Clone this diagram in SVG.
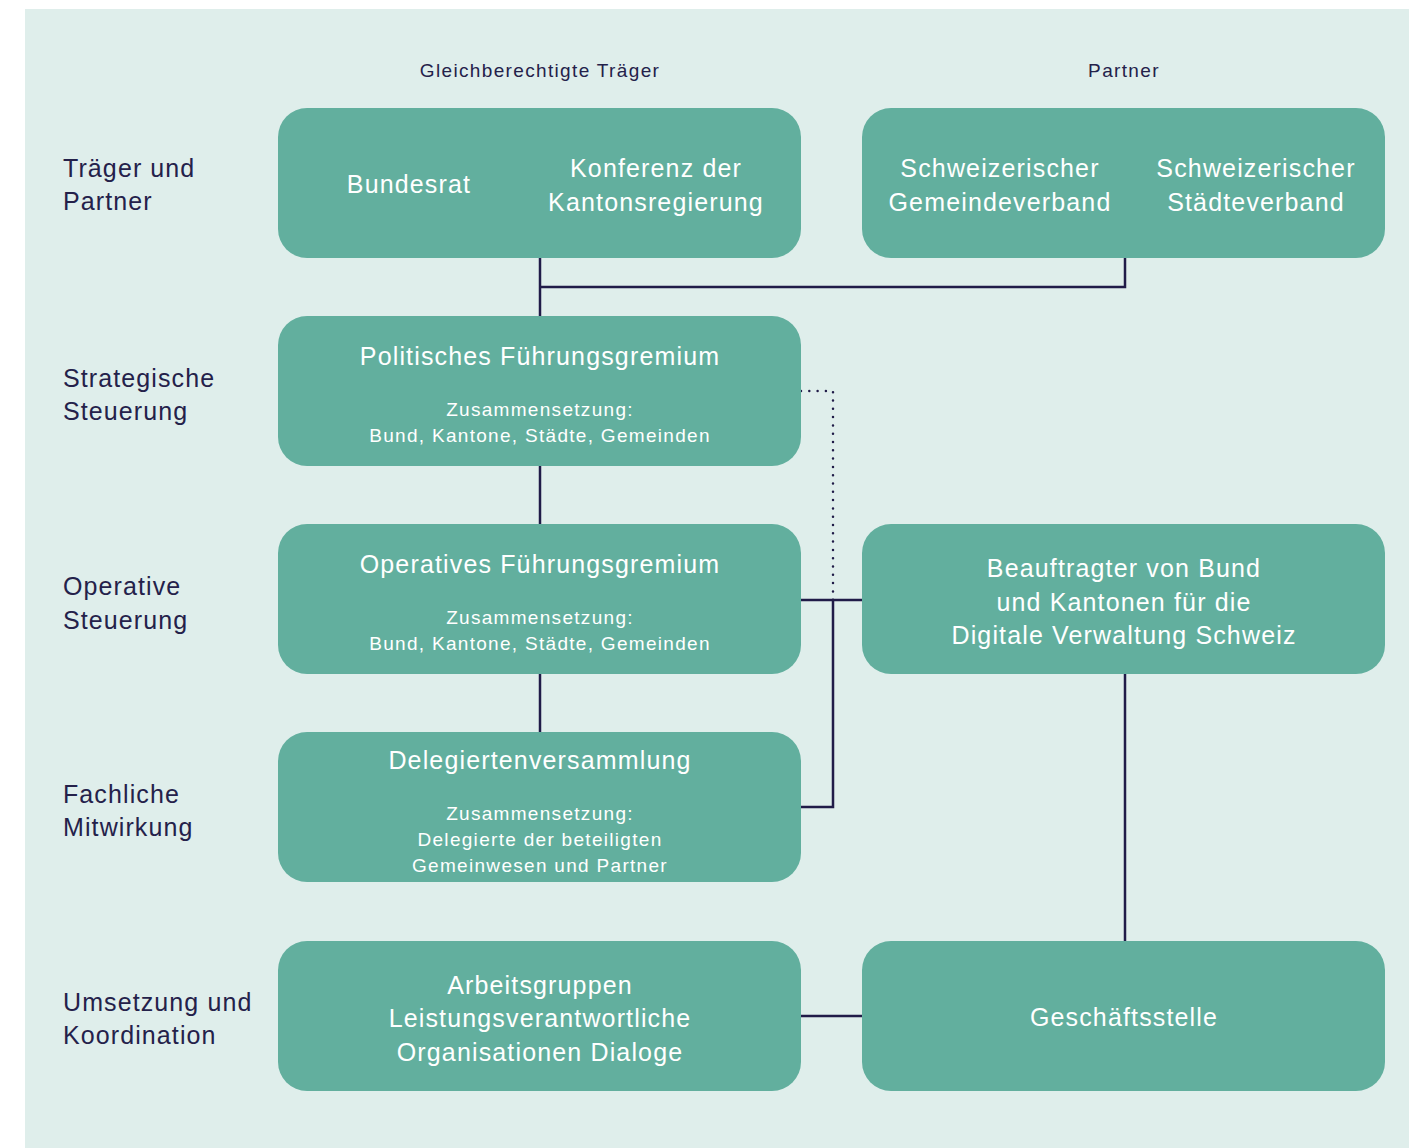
<svg xmlns="http://www.w3.org/2000/svg" width="1422" height="1148" viewBox="0 0 1422 1148">
<style>
.bg{fill:#dfeeeb}
.box{fill:#62af9e}
.t{font-family:"Liberation Sans",Arial,sans-serif;fill:#ffffff;text-anchor:middle}
.big{font-size:25px;letter-spacing:1.15px}
.small{font-size:19px;letter-spacing:1.3px}
.lab{font-family:"Liberation Sans",Arial,sans-serif;fill:#24214a;font-size:25px;letter-spacing:1.1px}
.head{font-family:"Liberation Sans",Arial,sans-serif;fill:#24214a;font-size:19px;letter-spacing:1.35px;text-anchor:middle}
.ln{stroke:#201b48;stroke-width:2.5;fill:none}
.dot{stroke:#201b48;stroke-width:2.5;fill:none;stroke-dasharray:0 8.3;stroke-linecap:round}
</style>
<rect class="bg" x="25" y="9" width="1384" height="1139"/>
<g id="headers">
<text class="head" x="540" y="77">Gleichberechtigte Träger</text>
<text class="head" x="1124" y="77">Partner</text>
</g>
<g id="labels">
<text class="lab" x="63" y="177">Träger und</text>
<text class="lab" x="63" y="210">Partner</text>
<text class="lab" x="63" y="387">Strategische</text>
<text class="lab" x="63" y="420">Steuerung</text>
<text class="lab" x="63" y="595">Operative</text>
<text class="lab" x="63" y="629">Steuerung</text>
<text class="lab" x="63" y="803">Fachliche</text>
<text class="lab" x="63" y="836">Mitwirkung</text>
<text class="lab" x="63" y="1011">Umsetzung und</text>
<text class="lab" x="63" y="1044">Koordination</text>
</g>
<g id="connectors">
<path class="ln" d="M540 258V316"/>
<path class="ln" d="M540 287H1125V258"/>
<path class="ln" d="M540 466V524"/>
<path class="ln" d="M540 674V732"/>
<path class="dot" d="M801 391H833V600"/>
<path class="ln" d="M801 600H862"/>
<path class="ln" d="M833 600V807H801"/>
<path class="ln" d="M1125 674V941"/>
<path class="ln" d="M801 1016H862"/>
</g>
<g id="traeger">
<rect class="box" x="278" y="108" width="523" height="150" rx="29"/>
<text class="t big" x="409" y="193">Bundesrat</text>
<text class="t big" x="656" y="177">Konferenz der</text>
<text class="t big" x="656" y="211">Kantonsregierung</text>
</g>
<g id="partner">
<rect class="box" x="862" y="108" width="523" height="150" rx="29"/>
<text class="t big" x="1000" y="177">Schweizerischer</text>
<text class="t big" x="1000" y="211">Gemeindeverband</text>
<text class="t big" x="1256" y="177">Schweizerischer</text>
<text class="t big" x="1256" y="211">Städteverband</text>
</g>
<g id="politisch">
<rect class="box" x="278" y="316" width="523" height="150" rx="29"/>
<text class="t big" x="540" y="365">Politisches Führungsgremium</text>
<text class="t small" x="540" y="416">Zusammensetzung:</text>
<text class="t small" x="540" y="442">Bund, Kantone, Städte, Gemeinden</text>
</g>
<g id="operativ">
<rect class="box" x="278" y="524" width="523" height="150" rx="29"/>
<text class="t big" x="540" y="573">Operatives Führungsgremium</text>
<text class="t small" x="540" y="624">Zusammensetzung:</text>
<text class="t small" x="540" y="650">Bund, Kantone, Städte, Gemeinden</text>
</g>
<g id="beauftragter">
<rect class="box" x="862" y="524" width="523" height="150" rx="29"/>
<text class="t big" x="1124" y="577">Beauftragter von Bund</text>
<text class="t big" x="1124" y="611">und Kantonen für die</text>
<text class="t big" x="1124" y="644">Digitale Verwaltung Schweiz</text>
</g>
<g id="delegierte">
<rect class="box" x="278" y="732" width="523" height="150" rx="29"/>
<text class="t big" x="540" y="769">Delegiertenversammlung</text>
<text class="t small" x="540" y="820">Zusammensetzung:</text>
<text class="t small" x="540" y="846">Delegierte der beteiligten</text>
<text class="t small" x="540" y="872">Gemeinwesen und Partner</text>
</g>
<g id="arbeitsgruppen">
<rect class="box" x="278" y="941" width="523" height="150" rx="29"/>
<text class="t big" x="540" y="994">Arbeitsgruppen</text>
<text class="t big" x="540" y="1027">Leistungsverantwortliche</text>
<text class="t big" x="540" y="1061">Organisationen Dialoge</text>
</g>
<g id="geschaeftsstelle">
<rect class="box" x="862" y="941" width="523" height="150" rx="29"/>
<text class="t big" x="1124" y="1026">Geschäftsstelle</text>
</g>
</svg>
